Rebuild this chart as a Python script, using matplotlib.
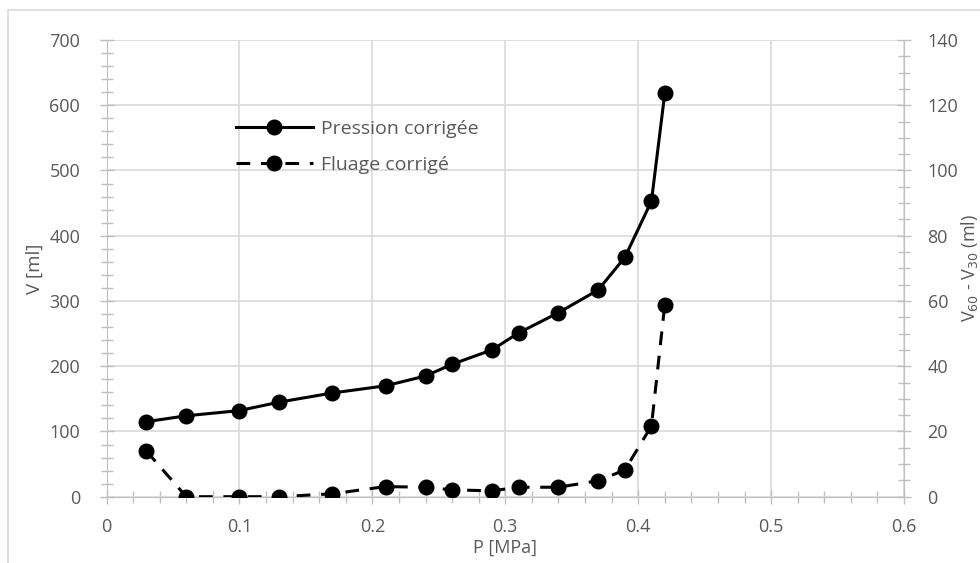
import matplotlib
matplotlib.use("Agg")
import matplotlib.pyplot as plt
from matplotlib.patches import Rectangle
from matplotlib.ticker import MultipleLocator

plt.rcParams["font.family"] = ["Open Sans", "DejaVu Sans"]

# Values
pressure = [0.03, 0.06, 0.10, 0.13, 0.17, 0.21, 0.24, 0.26, 0.29, 0.31, 0.34, 0.37, 0.39, 0.41, 0.42]
volume = [115, 124, 132, 145, 159, 170, 185, 203, 225, 251, 282, 317, 367, 453, 618]
creep = [14.0, 0.0, 0.0, 0.0, 0.9, 3.1, 2.9, 2.1, 1.8, 2.9, 2.9, 4.9, 8.2, 21.7, 58.8]

label_volume = "Pression corrigée"
label_creep = "Fluage corrigé"

GRAY_TXT = "#595959"
GRID = "#d9d9d9"
AXIS = "#bfbfbf"
FS = 13

fig = plt.figure(figsize=(9.8, 5.63), dpi=100)
fig.patch.set_facecolor("white")

# outer chart-area border (cropped at right/bottom in the reference)
fig.patches.append(Rectangle((8 / 980, -0.1), 1.2, 1 - 10 / 563 + 0.1,
                             transform=fig.transFigure, fill=False,
                             edgecolor=GRID, linewidth=1.2))

ax = fig.add_axes([106.5 / 980, 1 - 496.7 / 563, (904 - 106.5) / 980, (496.7 - 40) / 563])
ax2 = ax.twinx()

l1, = ax.plot(pressure, volume, color="black", lw=2.2, marker="o", ms=10.5,
              label=label_volume, zorder=3)
l2, = ax2.plot(pressure, creep, color="black", lw=2.2, marker="o", ms=10.5,
               dashes=(4.5, 3.5), label=label_creep, zorder=3)

ax.set_xlim(0, 0.6)
ax.set_ylim(0, 700)
ax2.set_ylim(0, 140)

ax.xaxis.set_major_locator(MultipleLocator(0.1))
ax.xaxis.set_minor_locator(MultipleLocator(0.02))
ax.yaxis.set_major_locator(MultipleLocator(100))
ax.yaxis.set_minor_locator(MultipleLocator(20))
ax2.yaxis.set_major_locator(MultipleLocator(20))
ax2.yaxis.set_minor_locator(MultipleLocator(5))

ax.xaxis.set_major_formatter(matplotlib.ticker.FuncFormatter(lambda v, p: f"{v:g}"))

ax.grid(True, which="major", color=GRID, lw=1.2, zorder=0)
ax.set_axisbelow(True)

for a in (ax, ax2):
    for s in a.spines.values():
        s.set_visible(False)
ax.spines["left"].set_visible(True)
ax.spines["bottom"].set_visible(True)
ax2.spines["right"].set_visible(True)
ax.spines["left"].set_color(AXIS)
ax.spines["bottom"].set_color(AXIS)
ax2.spines["right"].set_color(AXIS)

ax.tick_params(axis="both", which="major", direction="inout", length=10, width=1,
               color=AXIS, labelcolor=GRAY_TXT, labelsize=FS)
ax.tick_params(axis="both", which="minor", direction="inout", length=8, width=1,
               color=AXIS)
ax.tick_params(axis="y", which="major", pad=14)
ax.tick_params(axis="x", which="major", pad=10)
ax2.tick_params(axis="y", which="major", direction="inout", length=10, width=1,
                color=AXIS, labelcolor=GRAY_TXT, labelsize=FS, pad=12)
ax2.tick_params(axis="y", which="minor", direction="inout", length=8, width=1,
                color=AXIS)

ax.set_xlabel("P [MPa]", color=GRAY_TXT, fontsize=FS, labelpad=2)
ax.set_ylabel("V [ml]", color=GRAY_TXT, fontsize=FS + 0.5, labelpad=4)
fig.text(969 / 980, 1 - 268 / 563, r"V$_{60}$ - V$_{30}$ (ml)", rotation=90,
         color=GRAY_TXT, fontsize=FS, ha="center", va="center")

fig.legend(handles=[l1, l2], loc="center left",
           bbox_to_anchor=(218 / 980, 1 - 147 / 563), frameon=False,
           fontsize=FS + 1, handlelength=4.0, handletextpad=0.4, labelspacing=0.9,
           labelcolor=GRAY_TXT)

fig.savefig("out.png", dpi=100, facecolor="white")
